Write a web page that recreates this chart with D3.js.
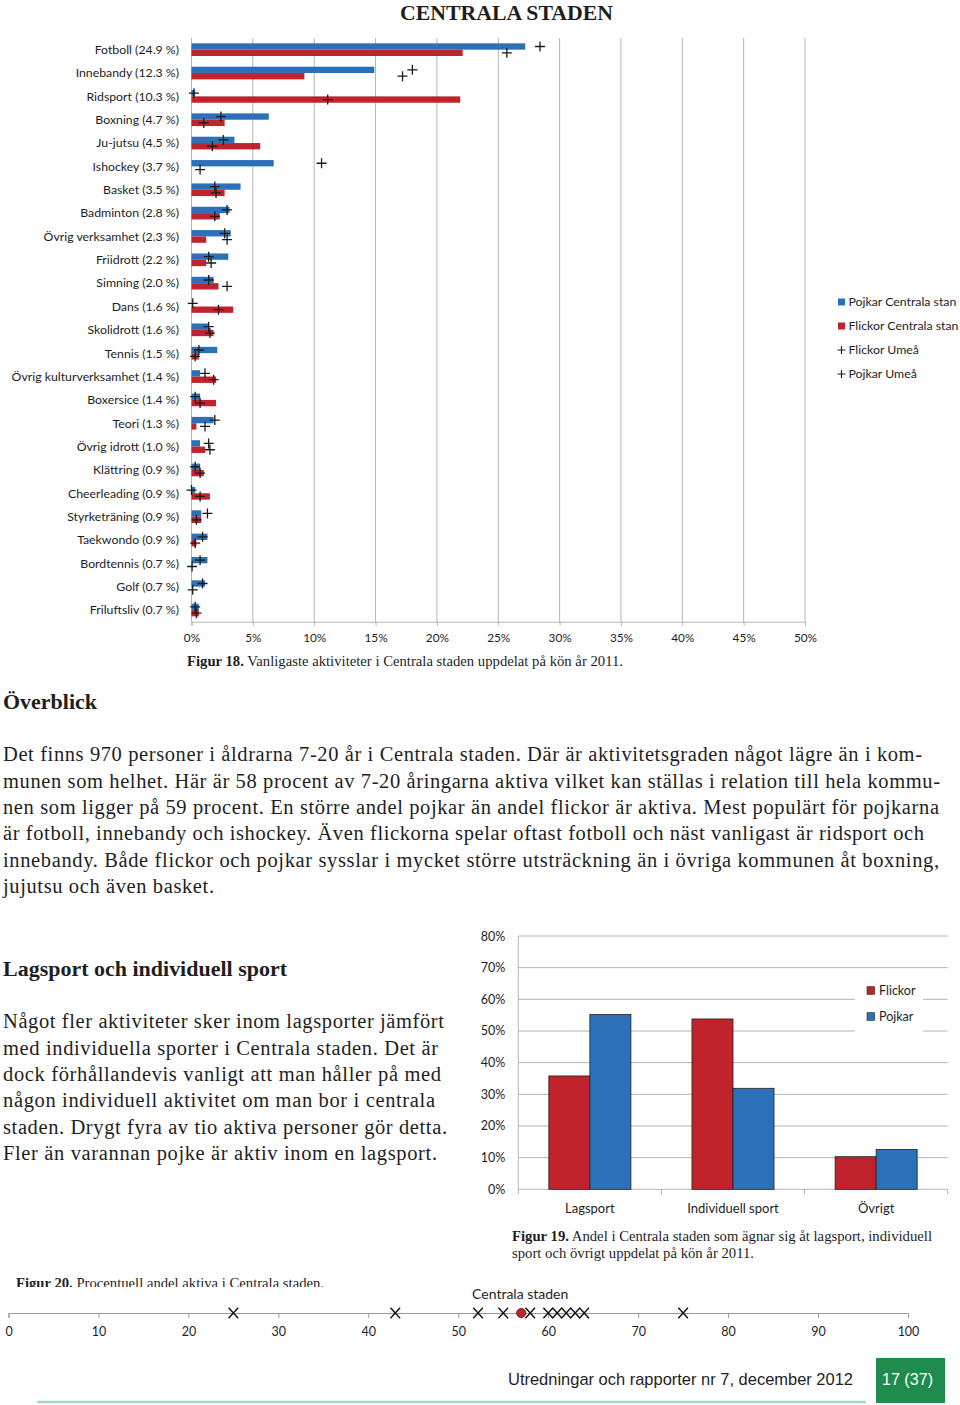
<!DOCTYPE html>
<html>
<head>
<meta charset="utf-8">
<script src="https://cdn.jsdelivr.net/npm/d3@7"></script>
<style>
  body { margin: 0; background: #fff; }
  svg text { fill: #1e1e1e; }
</style>
</head>
<body>
<svg id="page" width="960" height="1405"></svg>
<script>
// Figur 18 - vanligaste aktiviteter
var activities = ["Fotboll", "Innebandy", "Ridsport", "Boxning", "Ju-jutsu", "Ishockey", "Basket",
    "Badminton", "Övrig verksamhet", "Friidrott", "Simning", "Dans", "Skolidrott", "Tennis",
    "Övrig kulturverksamhet", "Boxersice", "Teori", "Övrig idrott", "Klättring", "Cheerleading",
    "Styrketräning", "Taekwondo", "Bordtennis", "Golf", "Friluftsliv"];
var activityShare = ["24.9", "12.3", "10.3", "4.7", "4.5", "3.7", "3.5", "2.8", "2.3", "2.2", "2.0",
    "1.6", "1.6", "1.5", "1.4", "1.4", "1.3", "1.0", "0.9", "0.9", "0.9", "0.9", "0.7", "0.7", "0.7"];
var pojkarCentrala = [27.2, 14.9, 0.3, 6.3, 3.5, 6.7, 4.0, 3.1, 3.2, 3.0, 1.8, 0, 1.4, 2.1,
    0.7, 0.7, 1.8, 0.7, 0.7, 0.3, 0.8, 1.3, 1.3, 1.1, 0.6];
var flickorCentrala = [22.1, 9.2, 21.9, 2.7, 5.6, 0, 2.7, 2.3, 1.2, 1.2, 2.2, 3.4, 1.8, 0.6,
    2.0, 2.0, 0.4, 1.1, 1.0, 1.5, 0.8, 0.4, 0, 0, 0.6];
var pojkarUmea = [28.4, 18.0, 0.2, 2.4, 2.6, 10.6, 1.9, 2.9, 2.7, 1.4, 1.4, 0.1, 1.4, 0.6,
    1.1, 0.3, 1.9, 1.4, 0.3, 0.0, 1.3, 0.9, 0.7, 0.9, 0.3];
var flickorUmea = [25.7, 17.2, 11.1, 1.0, 1.7, 0.7, 2.0, 1.9, 2.9, 1.6, 2.9, 2.2, 1.5, 0.3,
    1.8, 0.7, 1.1, 1.5, 0.7, 0.7, 0.4, 0.3, 0.05, 0.1, 0.4];
var pctTicks = [0, 5, 10, 15, 20, 25, 30, 35, 40, 45, 50];
var topLegend = ["Pojkar Centrala stan", "Flickor Centrala stan", "Flickor Umeå", "Pojkar Umeå"];

// Figur 19 - lagsport / individuell sport
var sportTypes = ["Lagsport", "Individuell sport", "Övrigt"];
var flickorTyp = [35.8, 53.8, 10.3];
var pojkarTyp = [55.2, 31.9, 12.6];
var typTicks = [0, 10, 20, 30, 40, 50, 60, 70, 80];

// Figur 20 - andel aktiva
var umeaDelar = [25, 43, 52.2, 55, 58, 60, 61, 62, 63, 64, 75];
var centralaStaden = 57;
var lineTicks = [0, 10, 20, 30, 40, 50, 60, 70, 80, 90, 100];

var para1 = [
    "Det finns 970 personer i åldrarna 7-20 år i Centrala staden. Där är aktivitetsgraden något lägre än i kom-",
    "munen som helhet. Här är 58 procent av 7-20 åringarna aktiva vilket kan ställas i relation till hela kommu-",
    "nen som ligger på 59 procent. En större andel pojkar än andel flickor är aktiva. Mest populärt för pojkarna",
    "är fotboll, innebandy och ishockey. Även flickorna spelar oftast fotboll och näst vanligast är ridsport och",
    "innebandy. Både flickor och pojkar sysslar i mycket större utsträckning än i övriga kommunen åt boxning,",
    "jujutsu och även basket."];
var para1Width = [919, 937, 936, 921, 936, 211];
var para2 = [
    "Något fler aktiviteter sker inom lagsporter jämfört",
    "med individuella sporter i Centrala staden. Det är",
    "dock förhållandevis vanligt att man håller på med",
    "någon individuell aktivitet om man bor i centrala",
    "staden. Drygt fyra av tio aktiva personer gör detta.",
    "Fler än varannan pojke är aktiv inom en lagsport."];
var para2Width = [441, 435, 438, 432, 444, 434];

var blue = "#2b70b8", red = "#c1232c", grid = "#b4b4b4";
var sans = "Lato, 'Open Sans', sans-serif";
var serif = "'Liberation Serif', 'Times New Roman', serif";

var svg = d3.select("#page");

// page title
svg.append("text")
    .attr("x", 400).attr("y", 20)
    .attr("textLength", 213).attr("lengthAdjust", "spacingAndGlyphs")
    .style("font-family", serif).style("font-weight", "bold").style("font-size", "22px")
    .text("CENTRALA STADEN");

// ---------- Figur 18 ----------
var x = d3.scaleLinear().domain([0, 50]).range([191.5, 805]);
var y = d3.scaleBand().domain(activities).range([38, 621.7]);
var ySub = d3.scaleBand().domain(["p", "f"])
    .range([y.bandwidth() * 0.228, y.bandwidth() * 0.772]);

var chart1 = svg.append("g");

chart1.selectAll("line.grid")
    .data(pctTicks)
    .enter().append("line")
    .attr("x1", function (d) { return x(d); })
    .attr("x2", function (d) { return x(d); })
    .attr("y1", 38).attr("y2", 621.7)
    .attr("stroke", grid);

var xAxis = d3.axisBottom(x).tickValues(pctTicks)
    .tickFormat(function (d) { return d + "%"; })
    .tickSize(4).tickPadding(8);
var ax1 = chart1.append("g").attr("transform", "translate(0,621.7)").call(xAxis);
ax1.selectAll("path, line").attr("stroke", grid);
ax1.selectAll("text").style("font-family", sans).style("font-size", "11.8px").attr("fill", "#333");

chart1.selectAll("text.cat")
    .data(activities)
    .enter().append("text")
    .attr("x", 179)
    .attr("y", function (d) { return y(d) + y.bandwidth() / 2; })
    .attr("dy", ".35em")
    .style("text-anchor", "end")
    .style("font-family", sans).style("font-size", "12.3px")
    .text(function (d, i) { return d + " (" + activityShare[i] + " %)"; });

chart1.selectAll("rect.pojk")
    .data(activities)
    .enter().append("rect")
    .attr("x", x(0))
    .attr("y", function (d) { return y(d) + ySub("p"); })
    .attr("width", function (d, i) { return x(pojkarCentrala[i]) - x(0); })
    .attr("height", ySub.bandwidth())
    .style("fill", blue);

chart1.selectAll("rect.flick")
    .data(activities)
    .enter().append("rect")
    .attr("x", x(0))
    .attr("y", function (d) { return y(d) + ySub("f"); })
    .attr("width", function (d, i) { return x(flickorCentrala[i]) - x(0); })
    .attr("height", ySub.bandwidth())
    .style("fill", red);

var plus = "M-5,0H5M0,-5V5";
function drawPluses(values, sub) {
    chart1.selectAll(null)
        .data(activities)
        .enter().append("path")
        .attr("d", plus)
        .attr("transform", function (d, i) {
            return "translate(" + x(values[i]) + "," + (y(d) + ySub(sub) + ySub.bandwidth() / 2) + ")";
        })
        .attr("stroke", "#1a1a1a").attr("stroke-width", 1.3).attr("fill", "none");
}
drawPluses(pojkarUmea, "p");
drawPluses(flickorUmea, "f");

var legend1 = chart1.selectAll("g.leg")
    .data(topLegend)
    .enter().append("g")
    .attr("transform", function (d, i) { return "translate(838," + (302 + i * 24) + ")"; });

legend1.filter(function (d, i) { return i < 2; })
    .append("rect")
    .attr("x", 0).attr("y", -3.5).attr("width", 7).attr("height", 7)
    .style("fill", function (d, i) { return i === 0 ? blue : red; });

legend1.filter(function (d, i) { return i >= 2; })
    .append("path")
    .attr("d", "M-4,0H4M0,-4V4")
    .attr("transform", "translate(3.5,0)")
    .attr("stroke", "#1a1a1a").attr("stroke-width", 1.2);

legend1.append("text")
    .attr("x", 10.5).attr("y", 0).attr("dy", ".35em")
    .style("font-family", sans).style("font-size", "12.3px")
    .text(function (d) { return d; });

// caption 18
var cap18 = svg.append("text").attr("x", 187).attr("y", 661).attr("dy", ".35em")
    .attr("textLength", 436).attr("lengthAdjust", "spacingAndGlyphs")
    .style("font-family", serif).style("font-size", "14.5px");
cap18.append("tspan").style("font-weight", "bold").text("Figur 18.");
cap18.append("tspan").text(" Vanligaste aktiviteter i Centrala staden uppdelat på kön år 2011.");

// headings + text
function heading(txt, yy, w) {
    svg.append("text").attr("x", 3).attr("y", yy).attr("dy", ".35em")
        .attr("textLength", w).attr("lengthAdjust", "spacingAndGlyphs")
        .style("font-family", serif).style("font-weight", "bold").style("font-size", "22px")
        .text(txt);
}
heading("Överblick", 701, 94);
heading("Lagsport och individuell sport", 968, 284);

function paragraph(lines, widths, y0) {
    svg.selectAll(null)
        .data(lines)
        .enter().append("text")
        .attr("x", 3)
        .attr("y", function (d, i) { return y0 + i * 26.4; })
        .attr("dy", ".35em")
        .attr("textLength", function (d, i) { return widths[i]; })
        .attr("lengthAdjust", "spacing")
        .style("font-family", serif).style("font-size", "20.5px")
        .text(function (d) { return d; });
}
paragraph(para1, para1Width, 754);
paragraph(para2, para2Width, 1021);

// ---------- Figur 19 ----------
var y2 = d3.scaleLinear().domain([0, 80]).range([1189.3, 936]);
var x0 = d3.scaleBand().domain(sportTypes).range([518.3, 947.7]);
var x1 = d3.scaleBand().domain(["f", "p"]).range([0, x0.bandwidth()]).paddingOuter(0.744);

var chart2 = svg.append("g");
chart2.selectAll("line.grid")
    .data(typTicks)
    .enter().append("line")
    .attr("x1", 518.3).attr("x2", 947.7)
    .attr("y1", function (d) { return y2(d); })
    .attr("y2", function (d) { return y2(d); })
    .attr("stroke", grid);

chart2.append("line").attr("x1", 518.3).attr("x2", 518.3)
    .attr("y1", y2(80)).attr("y2", y2(0)).attr("stroke", grid);

var yAxis2 = d3.axisLeft(y2).tickValues(typTicks)
    .tickFormat(function (d) { return d + "%"; }).tickSize(0).tickPadding(13);
var ay2 = chart2.append("g").attr("transform", "translate(518.3,0)").call(yAxis2);
ay2.select(".domain").remove();
ay2.selectAll("text").style("font-family", sans).style("font-size", "12.5px").attr("fill", "#333");

// category dividers on the baseline
chart2.selectAll("line.div")
    .data(d3.range(sportTypes.length + 1))
    .enter().append("line")
    .attr("x1", function (d) { return 518.3 + d * x0.bandwidth(); })
    .attr("x2", function (d) { return 518.3 + d * x0.bandwidth(); })
    .attr("y1", y2(0)).attr("y2", y2(0) + 5)
    .attr("stroke", grid);

chart2.selectAll("text.cat")
    .data(sportTypes)
    .enter().append("text")
    .attr("x", function (d) { return x0(d) + x0.bandwidth() / 2; })
    .attr("y", 1208).attr("dy", ".35em")
    .style("text-anchor", "middle")
    .style("font-family", sans).style("font-size", "13px")
    .text(function (d) { return d; });

chart2.selectAll("rect.f")
    .data(sportTypes)
    .enter().append("rect")
    .attr("x", function (d) { return x0(d) + x1("f"); })
    .attr("y", function (d, i) { return y2(flickorTyp[i]); })
    .attr("width", x1.bandwidth())
    .attr("height", function (d, i) { return y2(0) - y2(flickorTyp[i]); })
    .style("fill", red).attr("stroke", "#222").attr("stroke-width", 0.8);

chart2.selectAll("rect.p")
    .data(sportTypes)
    .enter().append("rect")
    .attr("x", function (d) { return x0(d) + x1("p"); })
    .attr("y", function (d, i) { return y2(pojkarTyp[i]); })
    .attr("width", x1.bandwidth())
    .attr("height", function (d, i) { return y2(0) - y2(pojkarTyp[i]); })
    .style("fill", blue).attr("stroke", "#222").attr("stroke-width", 0.8);

chart2.append("rect").attr("x", 855).attr("y", 982).attr("width", 68).attr("height", 52)
    .style("fill", "#fff");
var legend2 = chart2.selectAll("g.leg")
    .data(["Flickor", "Pojkar"])
    .enter().append("g")
    .attr("transform", function (d, i) { return "translate(867," + (990.5 + i * 26) + ")"; });
legend2.append("rect")
    .attr("x", 0).attr("y", -3.8).attr("width", 7.6).attr("height", 7.6)
    .style("fill", function (d, i) { return i === 0 ? red : blue; })
    .attr("stroke", "#222").attr("stroke-width", 0.6);
legend2.append("text")
    .attr("x", 12).attr("dy", ".35em")
    .style("font-family", sans).style("font-size", "12.5px")
    .text(function (d) { return d; });

var cap19 = svg.append("text").attr("x", 512).attr("y", 1236).attr("dy", ".35em")
    .attr("textLength", 420).attr("lengthAdjust", "spacingAndGlyphs")
    .style("font-family", serif).style("font-size", "14px");
cap19.append("tspan").style("font-weight", "bold").text("Figur 19.");
cap19.append("tspan").text(" Andel i Centrala staden som ägnar sig åt lagsport, individuell");
svg.append("text").attr("x", 512).attr("y", 1253).attr("dy", ".35em")
    .attr("textLength", 242).attr("lengthAdjust", "spacingAndGlyphs")
    .style("font-family", serif).style("font-size", "14px")
    .text("sport och övrigt uppdelat på kön år 2011.");

// ---------- Figur 20 ----------
var cap20 = svg.append("text").attr("x", 16).attr("y", 1283).attr("dy", ".35em")
    .attr("textLength", 308).attr("lengthAdjust", "spacingAndGlyphs")
    .style("font-family", serif).style("font-size", "14px");
cap20.append("tspan").style("font-weight", "bold").text("Figur 20.");
cap20.append("tspan").text(" Procentuell andel aktiva i Centrala staden.");
svg.append("rect").attr("x", 0).attr("y", 1287).attr("width", 400).attr("height", 8).style("fill", "#fff");

var x3 = d3.scaleLinear().domain([0, 100]).range([8.5, 908]);
var chart3 = svg.append("g");
var xAxis3 = d3.axisBottom(x3).tickValues(lineTicks).tickSize(5).tickPadding(9);
var ax3 = chart3.append("g").attr("transform", "translate(0,1313)").call(xAxis3);
ax3.selectAll("path, line").attr("stroke", "#9a9a9a");
ax3.selectAll("text").style("font-family", sans).style("font-size", "12.5px").attr("fill", "#333");

chart3.selectAll("path.cross")
    .data(umeaDelar)
    .enter().append("path")
    .attr("d", "M-4.8,-5.2L4.8,5.2M-4.8,5.2L4.8,-5.2")
    .attr("transform", function (d) { return "translate(" + x3(d) + ",1313)"; })
    .attr("stroke", "#111").attr("stroke-width", 1.4).attr("fill", "none");

chart3.append("circle")
    .attr("cx", x3(centralaStaden)).attr("cy", 1313).attr("r", 4.6)
    .style("fill", red).attr("stroke", "#5a1010").attr("stroke-width", 0.8);

chart3.append("text")
    .attr("x", x3(centralaStaden) - 1).attr("y", 1294).attr("dy", ".35em")
    .style("text-anchor", "middle")
    .style("font-family", sans).style("font-size", "14px")
    .text("Centrala staden");

// ---------- footer ----------
svg.append("line").attr("x1", 37).attr("x2", 866).attr("y1", 1402).attr("y2", 1402)
    .attr("stroke", "#a9d6c3").attr("stroke-width", 2.5);
svg.append("text").attr("x", 508).attr("y", 1379).attr("dy", ".35em")
    .attr("textLength", 345).attr("lengthAdjust", "spacingAndGlyphs")
    .style("font-family", "'Liberation Sans', Arial, sans-serif").style("font-size", "17px")
    .text("Utredningar och rapporter nr 7, december 2012");
svg.append("rect").attr("x", 876).attr("y", 1358).attr("width", 69).attr("height", 45)
    .style("fill", "#1f8b4d");
svg.append("text").attr("x", 882).attr("y", 1379).attr("dy", ".35em")
    .attr("textLength", 51).attr("lengthAdjust", "spacingAndGlyphs")
    .style("font-family", "'Liberation Sans', Arial, sans-serif").style("font-size", "17px")
    .style("fill", "#fff")
    .text("17 (37)");
</script>
</body>
</html>
